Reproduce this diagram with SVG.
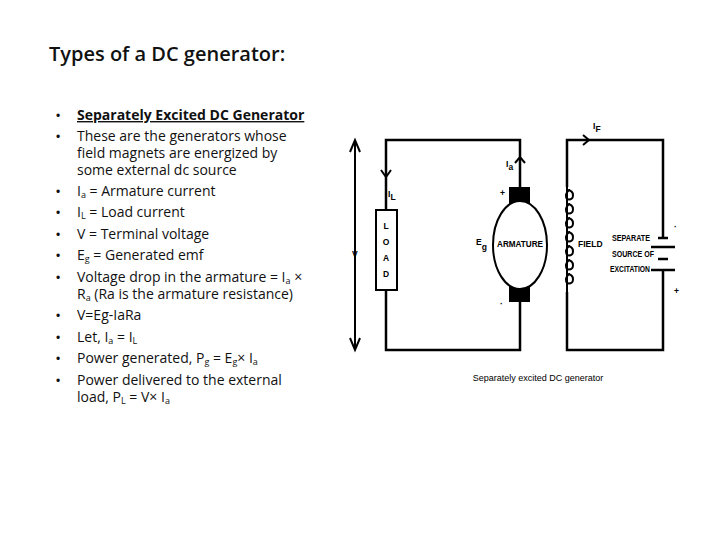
<svg xmlns="http://www.w3.org/2000/svg" width="720" height="540" viewBox="0 0 720 540">
<style>
.t{font-family:"Open Sans","Liberation Sans",sans-serif;font-size:14px;fill:#111}
.b{font-family:"Liberation Sans",sans-serif;font-size:12px;fill:#111}
.w{fill:none;stroke:#000;stroke-width:2.5}
.d{font-family:"Liberation Sans",sans-serif;font-weight:bold;font-size:8.5px;fill:#000}
.a{fill:none;stroke:#000;stroke-width:2}
</style>
<rect width="720" height="540" fill="#fff"/>
<text x="49" y="61" font-family="Open Sans,Liberation Sans,sans-serif" font-size="20" font-weight="600" fill="#111">Types of a DC generator:</text>
<g id="bullets">
<text class="b" x="56" y="120">•</text><text class="t" x="77" y="120" font-weight="bold" text-decoration="underline">Separately Excited DC Generator</text>
<text class="b" x="56" y="141">•</text><text class="t" x="77" y="141">These are the generators whose</text>
<text class="t" x="77" y="158">field magnets are energized by</text>
<text class="t" x="77" y="175">some external dc source</text>
<text class="b" x="56" y="196">•</text><text class="t" x="77" y="196">I<tspan font-size="9" dy="2">a</tspan><tspan dy="-2"> = Armature current</tspan></text>
<text class="b" x="56" y="217">•</text><text class="t" x="77" y="217">I<tspan font-size="9" dy="2">L</tspan><tspan dy="-2"> = Load current</tspan></text>
<text class="b" x="56" y="239">•</text><text class="t" x="77" y="239">V = Terminal voltage</text>
<text class="b" x="56" y="260">•</text><text class="t" x="77" y="260">E<tspan font-size="9" dy="2">g</tspan><tspan dy="-2"> = Generated emf</tspan></text>
<text class="b" x="56" y="282">•</text><text class="t" x="77" y="282">Voltage drop in the armature = I<tspan font-size="9" dy="2">a</tspan><tspan dy="-2"> ×</tspan></text>
<text class="t" x="77" y="299">R<tspan font-size="9" dy="2">a</tspan><tspan dy="-2"> (Ra is the armature resistance)</tspan></text>
<text class="b" x="56" y="320">•</text><text class="t" x="77" y="320">V=Eg-IaRa</text>
<text class="b" x="56" y="342">•</text><text class="t" x="77" y="342">Let, I<tspan font-size="9" dy="2">a</tspan><tspan dy="-2"> = I</tspan><tspan font-size="9" dy="2">L</tspan></text>
<text class="b" x="56" y="363">•</text><text class="t" x="77" y="363">Power generated, P<tspan font-size="9" dy="2">g</tspan><tspan dy="-2"> = E</tspan><tspan font-size="9" dy="2">g</tspan><tspan dy="-2">× I</tspan><tspan font-size="9" dy="2">a</tspan></text>
<text class="b" x="56" y="385">•</text><text class="t" x="77" y="385">Power delivered to the external</text>
<text class="t" x="77" y="402">load, P<tspan font-size="9" dy="2">L</tspan><tspan dy="-2"> = V× I</tspan><tspan font-size="9" dy="2">a</tspan></text>
</g>
<g id="connectors">
<path class="w" d="M386 210V140H520V187M520 302V350H386V290"/>
<path class="w" d="M567 187V140H663V238M663 270V350H567V292"/>
<path class="a" d="M355 142V348M350 152L355 140L360 152M350 338L355 350L360 338"/>
<path class="a" d="M381 170L386 177L391 170"/>
<path class="a" d="M515 163L520 157L525 163"/>
<path class="a" d="M583 135L589 140L583 145"/>
</g>
<g id="load"><rect x="376" y="210" width="21" height="80" fill="#fff" stroke="#000" stroke-width="2"/>
<text class="d" x="386" y="229" text-anchor="middle">L</text><text class="d" x="386" y="245" text-anchor="middle">O</text><text class="d" x="386" y="261" text-anchor="middle">A</text><text class="d" x="386" y="277" text-anchor="middle">D</text></g>
<g id="armature">
<rect x="509" y="187" width="21" height="17" fill="#000"/>
<rect x="509" y="286" width="21" height="16" fill="#000"/>
<ellipse cx="520" cy="245" rx="27" ry="44" fill="#fff" stroke="#000" stroke-width="2"/>
<text class="d" x="520" y="247" text-anchor="middle" font-size="7" textLength="46" lengthAdjust="spacingAndGlyphs">ARMATURE</text>
</g>
<g id="field">
<path class="a" d="M567 187V292"/>
<path class="a" d="M567 190c5 0 6 3 6 5.5s-2 4-4 4s-3-2-3-4s2-5.5 4-5.5M567 204c5 0 6 3 6 5.5s-2 4-4 4s-3-2-3-4s2-5.5 4-5.5M567 218c5 0 6 3 6 5.5s-2 4-4 4s-3-2-3-4s2-5.5 4-5.5M567 232c5 0 6 3 6 5.5s-2 4-4 4s-3-2-3-4s2-5.5 4-5.5M567 246c5 0 6 3 6 5.5s-2 4-4 4s-3-2-3-4s2-5.5 4-5.5M567 260c5 0 6 3 6 5.5s-2 4-4 4s-3-2-3-4s2-5.5 4-5.5M567 274c5 0 6 3 6 5.5s-2 4-4 4s-3-2-3-4s2-5.5 4-5.5"/>
<text class="d" x="578" y="247" font-size="8">FIELD</text>
</g>
<g id="battery">
<path class="w" d="M658 238H668M651 247H675M658 259H668M651 270H675"/>
<text class="d" x="612" y="241" font-size="7.5" textLength="38" lengthAdjust="spacingAndGlyphs">SEPARATE</text>
<text class="d" x="612" y="257" font-size="7.5" textLength="42" lengthAdjust="spacingAndGlyphs">SOURCE OF</text>
<text class="d" x="610" y="272" font-size="7.5" textLength="40" lengthAdjust="spacingAndGlyphs">EXCITATION</text>
<text class="d" x="674" y="230">·</text><text class="d" x="674" y="294">+</text>
</g>
<g id="labels">
<text class="d" x="352" y="257">V</text>
<text class="d" x="388" y="197">I<tspan dy="3">L</tspan></text>
<text class="d" x="506" y="167">I<tspan dy="3">a</tspan></text>
<text class="d" x="593" y="129">I<tspan dy="3">F</tspan></text>
<text class="d" x="500" y="196">+</text>
<text class="d" x="500" y="307">·</text>
<text class="d" x="476" y="245">E<tspan dy="5">g</tspan></text>
<text x="538" y="381" font-family="Liberation Sans,sans-serif" font-size="9" fill="#000" text-anchor="middle">Separately excited DC generator</text>
</g>
</svg>
